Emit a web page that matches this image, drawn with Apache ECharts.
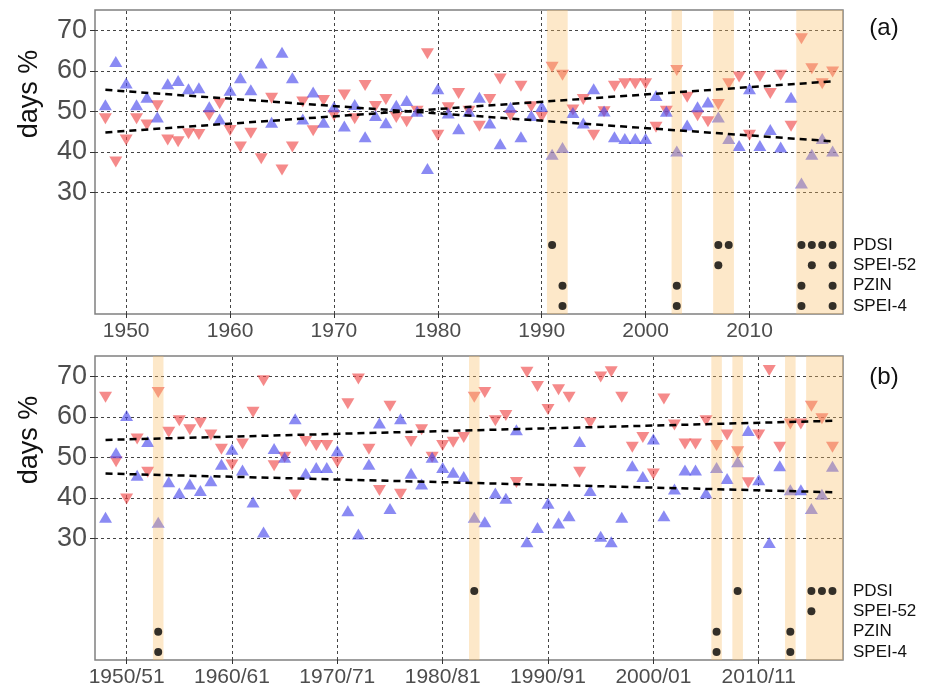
<!DOCTYPE html>
<html>
<head>
<meta charset="utf-8">
<script src="https://cdn.jsdelivr.net/npm/echarts@6/dist/echarts.min.js"></script>
<style>
  html, body { margin: 0; padding: 0; background: #fff; }
  #chart { width: 932px; height: 689px; }
</style>
</head>
<body>
<div id="chart"></div>
<script>
// panel (a): calendar years 1948-2018
const yearsA = Array.from({ length: 71 }, (_, i) => 1948 + i)
const upA = [
  51.6, 62.3, 57.0, 51.6, 53.5, 48.6, 56.8, 57.6, 55.6, 55.8,
  51.1, 48.1, 55.2, 58.3, 55.3, 61.9, 47.3, 64.6, 58.3, 48.1,
  54.8, 47.3, 51.1, 46.4, 51.7, 43.7, 49.0, 47.2, 51.5, 52.7,
  50.0, 35.9, 55.6, 49.6, 45.7, 50.0, 53.5, 47.1, 42.0, 51.0,
  43.7, 49.0, 51.2, 39.4, 41.1, 49.7, 47.1, 55.6, 50.1, 43.7,
  43.3, 43.3, 43.3, 53.9, 50.0, 40.2, 46.6, 51.1, 52.3, 48.6,
  43.3, 41.6, 55.6, 41.6, 45.5, 41.2, 53.5, 32.3, 39.4, 43.3,
  40.2
]
const downA = [
  48.2, 37.5, 42.9, 48.2, 46.6, 51.4, 42.9, 42.5, 44.5, 44.3,
  49.0, 51.9, 45.3, 41.2, 44.6, 38.3, 53.2, 35.5, 41.2, 52.3,
  45.2, 52.7, 49.0, 54.0, 48.2, 56.4, 51.2, 52.9, 48.5, 47.4,
  50.0, 64.2, 44.1, 50.9, 54.4, 50.0, 46.3, 52.9, 58.0, 49.0,
  56.2, 51.1, 48.6, 60.9, 58.9, 50.3, 52.9, 44.1, 49.9, 56.2,
  56.8, 56.8, 56.8, 46.1, 50.0, 60.1, 53.5, 48.9, 47.4, 51.7,
  56.8, 58.5, 44.1, 58.6, 54.4, 58.9, 46.3, 67.9, 60.5, 56.8,
  59.7
]
const trendUpA = [[1948, 44.8], [2018, 57.4]]
const trendDownA = [[1948, 55.3], [2018, 42.6]]
const bandsA = [[1990.5, 1992.5], [2002.5, 2003.5], [2006.5, 2008.5], [2014.5, 2019]]
const droughtA = {
  'PDSI': [1991, 2007, 2008, 2015, 2016, 2017, 2018],
  'SPEI-52': [2007, 2016, 2018],
  'PZIN': [1992, 2003, 2015, 2018],
  'SPEI-4': [1992, 2003, 2015, 2018]
}

// panel (b): seasons 1948/49-2017/18
const yearsB = Array.from({ length: 70 }, (_, i) => 1948 + i)
const upB = [
  35.2, 51.1, 60.3, 45.6, 53.9, 34.0, 44.0, 41.2, 43.4, 41.8,
  44.2, 48.3, 52.0, 46.9, 39.0, 31.6, 52.2, 50.0, 59.5, 46.1,
  47.5, 47.5, 51.6, 36.8, 31.1, 48.3, 58.5, 37.4, 59.5, 46.1,
  43.4, 50.0, 47.5, 46.3, 45.3, 35.2, 34.1, 41.2, 39.9, 56.8,
  29.2, 32.7, 38.7, 33.8, 35.6, 53.9, 41.8, 30.5, 29.2, 35.2,
  47.9, 45.3, 54.5, 35.6, 42.2, 46.9, 46.9, 41.2, 47.5, 44.8,
  48.9, 56.6, 44.5, 29.0, 47.9, 42.0, 42.0, 37.4, 40.9, 47.8
]
const downB = [
  64.8, 48.9, 39.7, 54.5, 46.3, 66.0, 56.2, 59.0, 56.8, 58.5,
  55.5, 52.0, 48.1, 53.3, 61.1, 68.9, 47.9, 50.0, 40.7, 53.9,
  52.9, 52.9, 48.8, 63.2, 69.3, 52.0, 41.8, 62.6, 40.9, 53.9,
  56.8, 50.0, 52.9, 53.7, 54.9, 64.8, 66.0, 59.0, 60.3, 43.8,
  71.0, 67.5, 61.8, 66.7, 64.8, 46.3, 58.5, 69.8, 71.1, 64.8,
  52.5, 54.9, 45.9, 64.4, 58.0, 53.3, 53.3, 59.0, 52.9, 55.5,
  51.4, 43.7, 55.5, 71.4, 52.5, 58.2, 58.2, 62.6, 59.5, 52.5
]
const trendUpB = [[1948, 54.3], [2017, 59.0]]
const trendDownB = [[1948, 46.0], [2017, 41.4]]
const bandsB = [[1952.5, 1953.5], [1982.5, 1983.5], [2005.5, 2006.5], [2007.5, 2008.5], [2012.5, 2013.5], [2014.5, 2018]]
const droughtB = {
  'PDSI': [1983, 2008, 2015, 2016, 2017],
  'SPEI-52': [2015],
  'PZIN': [1953, 2006, 2013],
  'SPEI-4': [1953, 2006, 2013]
}

// axes
const decades = [1950, 1960, 1970, 1980, 1990, 2000, 2010]
const yearLabels = ['1950', '1960', '1970', '1980', '1990', '2000', '2010']
const seasonLabels = ['1950/51', '1960/61', '1970/71', '1980/81', '1990/91', '2000/01', '2010/11']
const yTicks = [30, 40, 50, 60, 70]
const rowNames = ['PDSI', 'SPEI-52', 'PZIN', 'SPEI-4']
const rowLevels = [17, 12, 7, 2]

const FONT = 'Liberation Sans, Arial, sans-serif'
const RED = 'rgba(240, 72, 72, 0.8)'
const BLUE = 'rgba(72, 72, 236, 0.8)'
const BAND = 'rgba(248, 190, 100, 0.35)'

let chart = echarts.init(document.getElementById('chart'), null, { renderer: 'canvas' })

let grids = []
let xAxes = []
let yAxes = []
let series = []

function addPanel (g, cfg) {
  grids.push({
    left: 95, top: cfg.top, width: 748, height: 304,
    show: true, backgroundColor: '#fff', borderColor: '#808080', borderWidth: 1.5
  })
  xAxes.push({
    type: 'value', gridIndex: g, min: 1947, max: cfg.xMax,
    axisLine: { show: false },
    splitLine: { show: false },
    axisTick: { customValues: decades, length: 4, lineStyle: { color: '#333' } },
    axisLabel: {
      customValues: decades, fontSize: 21, color: '#4d4d4d', fontFamily: FONT, margin: 7,
      formatter: v => cfg.labels[decades.indexOf(v)]
    }
  })
  yAxes.push({
    type: 'value', gridIndex: g, min: 0, max: 75,
    axisLine: { show: false },
    splitLine: { show: false },
    axisTick: { customValues: yTicks, length: 5, lineStyle: { color: '#333' } },
    axisLabel: { customValues: yTicks, fontSize: 27, color: '#4d4d4d', fontFamily: FONT, margin: 8 }
  })
  yAxes.push({
    type: 'value', gridIndex: g, min: 0, max: 75, position: 'right',
    axisLine: { show: false },
    splitLine: { show: false },
    axisTick: { show: false },
    axisLabel: {
      customValues: rowLevels, fontSize: 17, color: '#111', fontFamily: FONT, margin: 10,
      formatter: v => rowNames[rowLevels.indexOf(v)]
    }
  })
  let yi = g * 2
  // dashed grid lines
  series.push({
    type: 'scatter', xAxisIndex: g, yAxisIndex: yi, data: [], silent: true,
    markLine: {
      silent: true, z: 1, symbol: ['none', 'none'], label: { show: false },
      emphasis: { disabled: true },
      lineStyle: { color: '#444', type: [3, 3], width: 1 },
      data: yTicks.map(v => ({ yAxis: v })).concat(decades.map(v => ({ xAxis: v })))
    }
  })
  series.push({
    type: 'scatter', xAxisIndex: g, yAxisIndex: yi, z: 2,
    symbol: 'triangle', symbolRotate: 180, symbolSize: [13, 11],
    itemStyle: { color: RED },
    data: cfg.years.map((y, i) => [y, cfg.down[i]])
  })
  series.push({
    type: 'scatter', xAxisIndex: g, yAxisIndex: yi, z: 2,
    symbol: 'triangle', symbolSize: [13, 11],
    itemStyle: { color: BLUE },
    data: cfg.years.map((y, i) => [y, cfg.up[i]])
  })
  // drought bands, drawn over the triangles
  series.push({
    type: 'scatter', xAxisIndex: g, yAxisIndex: yi, data: [], silent: true,
    markArea: {
      silent: true, z: 3, label: { show: false },
      itemStyle: { color: BAND },
      data: cfg.bands.map(b => [{ xAxis: b[0] }, { xAxis: b[1] }])
    }
  })
  ;[cfg.trendUp, cfg.trendDown].forEach(t => {
    series.push({
      type: 'line', xAxisIndex: g, yAxisIndex: yi, z: 5,
      symbol: 'none', silent: true,
      lineStyle: { color: '#000', width: 2.5, type: [7, 5] },
      data: t
    })
  })
  let dots = []
  rowNames.forEach((name, r) => {
    cfg.drought[name].forEach(y => dots.push([y, rowLevels[r]]))
  })
  series.push({
    type: 'scatter', xAxisIndex: g, yAxisIndex: yi, z: 6,
    symbol: 'circle', symbolSize: 8,
    itemStyle: { color: '#000' },
    data: dots
  })
}

addPanel(0, {
  top: 10, xMax: 2019, labels: yearLabels, years: yearsA, up: upA, down: downA,
  trendUp: trendUpA, trendDown: trendDownA, bands: bandsA, drought: droughtA
})
addPanel(1, {
  top: 356, xMax: 2018, labels: seasonLabels, years: yearsB, up: upB, down: downB,
  trendUp: trendUpB, trendDown: trendDownB, bands: bandsB, drought: droughtB
})

let texts = [
  { x: 30, y: 94, text: 'days %', size: 27, rot: Math.PI / 2 },
  { x: 30, y: 440, text: 'days %', size: 27, rot: Math.PI / 2 },
  { x: 884, y: 28, text: '(a)', size: 24, rot: 0 },
  { x: 884, y: 377, text: '(b)', size: 24, rot: 0 }
]

let option = {
  animation: false,
  backgroundColor: '#fff',
  grid: grids,
  xAxis: xAxes,
  yAxis: yAxes,
  series: series,
  graphic: texts.map(t => ({
    type: 'text', x: t.x, y: t.y, rotation: t.rot, z: 10,
    style: {
      text: t.text, fontSize: t.size, fontFamily: FONT, fill: '#111',
      align: 'center', verticalAlign: 'middle'
    }
  }))
}
chart.setOption(option)
</script>
</body>
</html>
